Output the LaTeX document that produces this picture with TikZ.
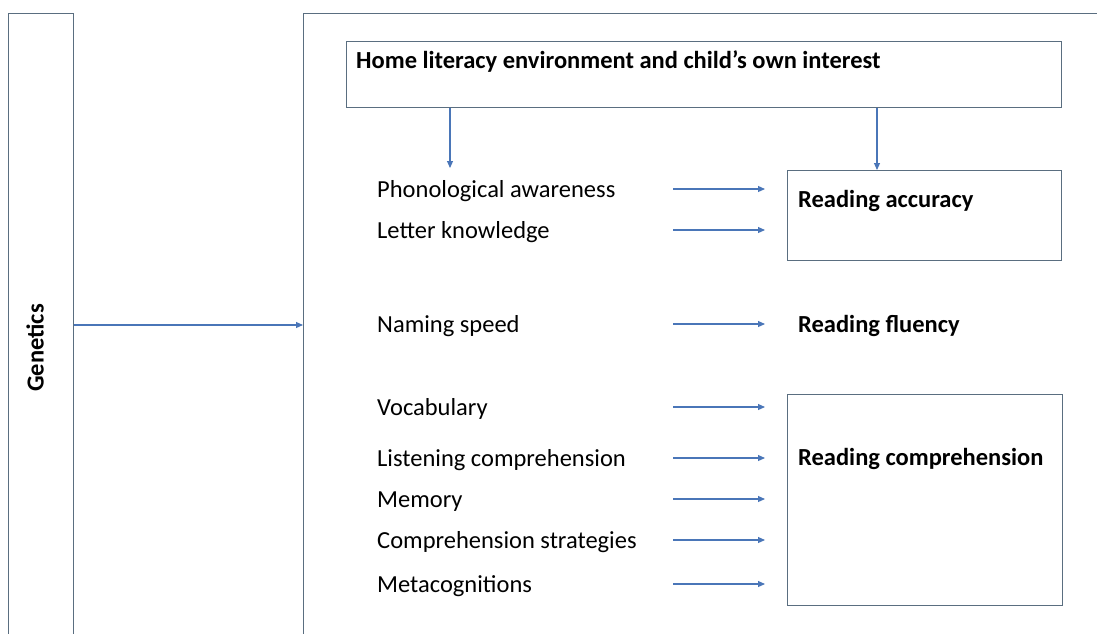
\documentclass[tikz,border=0pt]{standalone}
\usepackage{fontspec}
\setmainfont{Carlito}
\definecolor{frameGray}{HTML}{5A6E80}
\definecolor{linkBlue}{HTML}{4A76B8}
\usetikzlibrary{arrows.meta, positioning, calc}

\begin{document}
\begin{tikzpicture}[x=1pt, y=-1pt,
  frame/.style={draw=frameGray, line width=1.2pt, anchor=north west, inner sep=0pt},
  factor/.style={anchor=west, inner sep=0pt, text height=16pt, text depth=0pt,
    font=\fontsize{24.5}{28}\selectfont},
  outcome/.style={factor, font=\fontsize{24.5}{28}\selectfont\bfseries},
  link/.style={draw=linkBlue, line width=1.1pt, -{Triangle[length=7pt, width=6pt]}}]
  \useasboundingbox (0,0) rectangle (1097,634);
  \clip (0,0) rectangle (1097,634);

  % open frames running off the page
  \node[frame, minimum width=65pt, minimum height=700pt] (gen) at (8,13) {};
  \node[font=\fontsize{24.5}{28}\selectfont\bfseries, rotate=90] (genlbl) at (35,348) {Genetics};
  \node[frame, minimum width=900pt, minimum height=700pt] (ctx) at (303,13) {};

  % home environment box
  \node[frame, minimum width=715pt, minimum height=66pt] (home) at (346,41) {};
  \node[outcome] (hometxt) at (356,60) {Home literacy environment and child’s own interest};

  % outcomes
  \node[frame, minimum width=274pt, minimum height=90pt] (acc) at (787,170) {};
  \node[frame, minimum width=275pt, minimum height=211pt] (comp) at (787,394) {};
  \node[outcome] (acctxt) at (798,199) {Reading accuracy};
  \node[outcome] (flu) at (798,324) {Reading fluency};
  \node[outcome] (comptxt) at (798,457) {Reading comprehension};

  % predictors and their arrows
  \coordinate (tail) at (673,0);
  \coordinate (head) at (765,0);
  \foreach \name/\y/\txt in {pa/189/Phonological awareness, lk/230/Letter knowledge,
      ns/324/Naming speed, voc/407/Vocabulary, lc/458/Listening comprehension,
      mem/499/Memory, cs/540/Comprehension strategies, meta/584/Metacognitions} {
    \node[factor] (\name) at (377,\y) {\txt};
    \draw[link] (tail |- \name.west) -- (head |- \name.west);
  }

  \coordinate (drop1) at (450,168);
  \coordinate (drop2) at (877,168);
  \draw[link] (home.south -| drop1) -- (drop1);
  \draw[link] (home.south -| drop2) -- (acc.north -| drop2);
  \draw[link] (gen.east |- 0,325) -- (ctx.west |- 0,325);
\end{tikzpicture}
\end{document}
